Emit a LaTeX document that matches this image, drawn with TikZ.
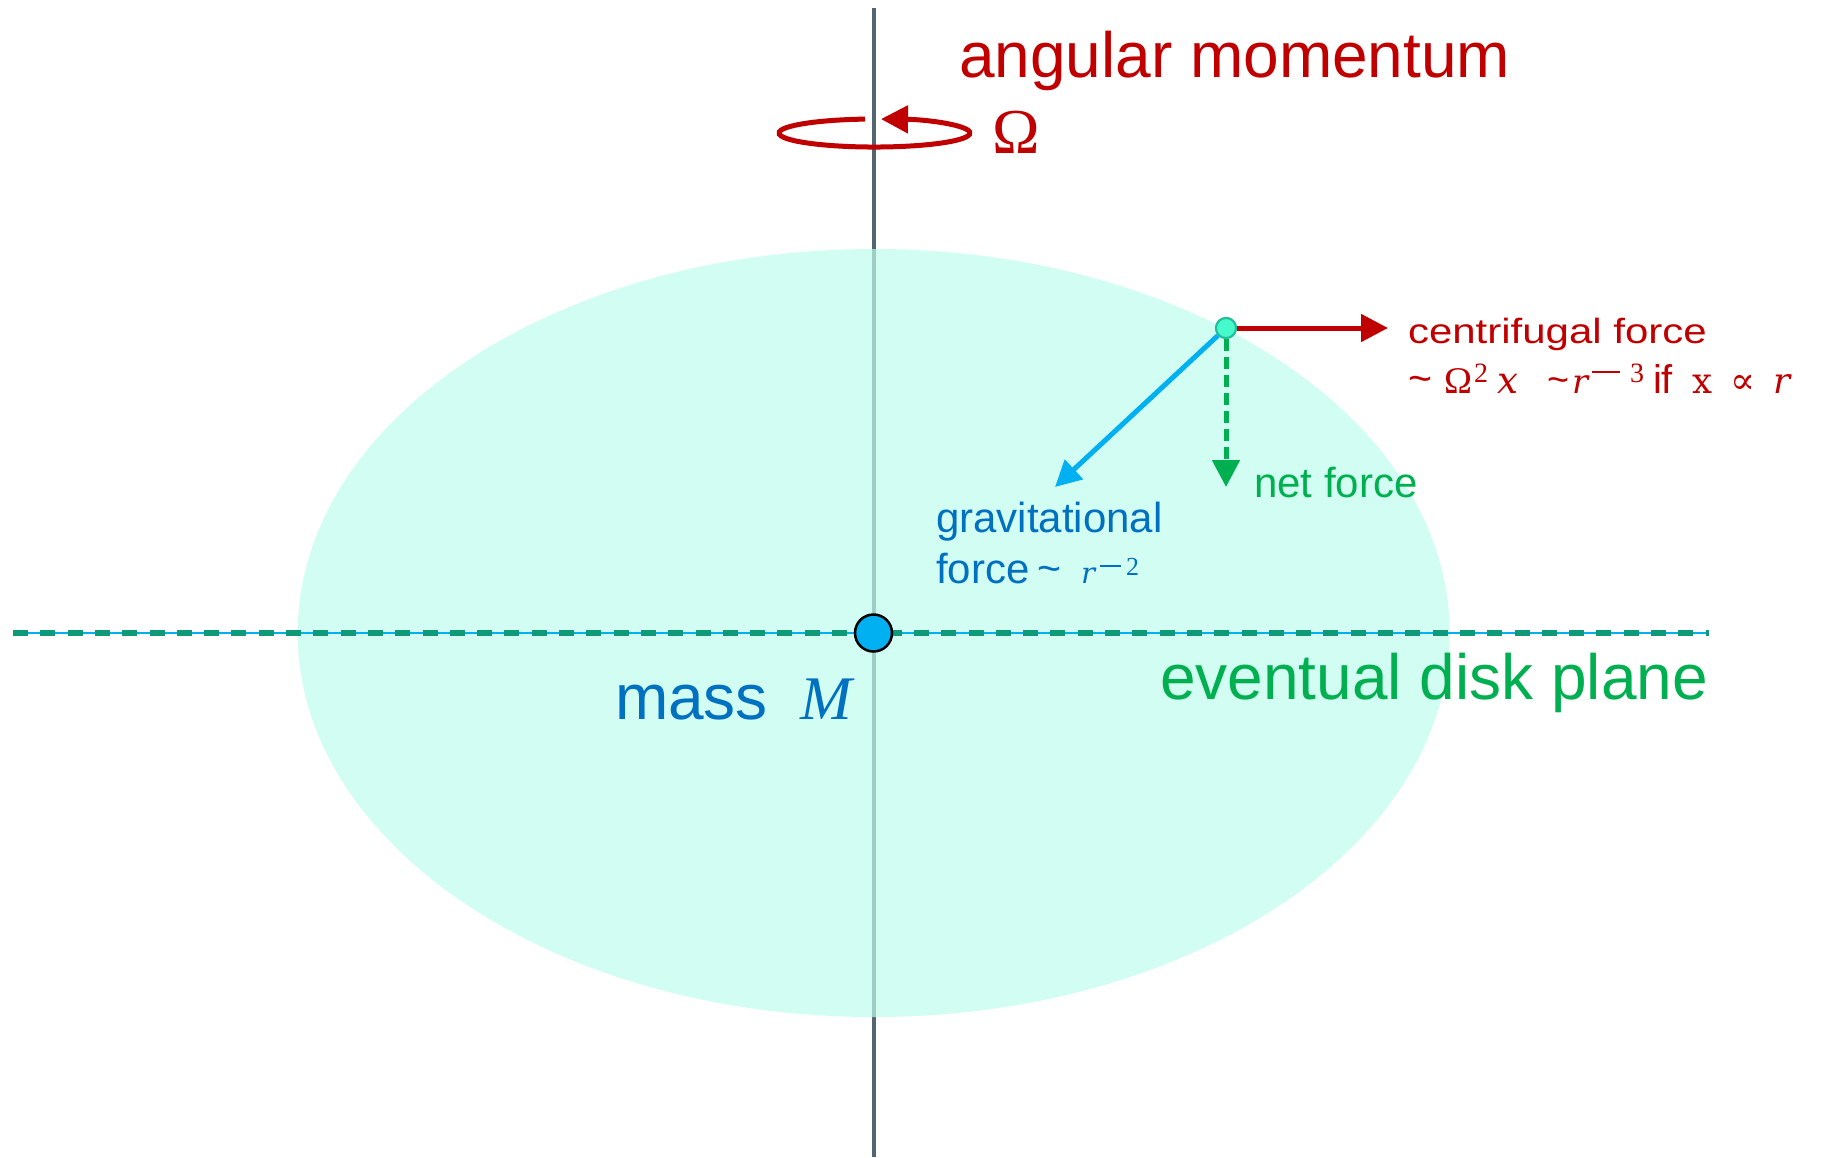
\documentclass[tikz,border=0pt]{standalone}
\usepackage{fontspec}
\setmainfont{Liberation Sans}
\newfontfamily\serif{Liberation Serif}
\newfontfamily\dserif{DejaVu Serif}
\usetikzlibrary{arrows.meta}
\definecolor{cred}{RGB}{192,0,0}
\definecolor{cblue}{RGB}{0,112,192}
\definecolor{clblue}{RGB}{0,176,240}
\definecolor{cgreen}{RGB}{0,176,80}
\definecolor{cteal}{RGB}{14,154,118}
\definecolor{cfill}{RGB}{191,252,236}
\definecolor{caxis}{RGB}{84,100,112}
\definecolor{cdot}{RGB}{70,250,205}
\definecolor{cdotb}{RGB}{30,190,150}
\newcommand\fs[1]{\fontsize{#1}{#1}\selectfont}
\newcommand\putat[2]{\makebox[0pt][l]{\hspace*{#1pt}#2}}
\newcommand\wbox[2]{\resizebox{#1pt}{!}{#2}}
\newcommand\mrule[3]{\raisebox{#1pt}{\rule{#2pt}{#3pt}}}
\tikzset{
  lbl/.style={inner sep=0pt, outer sep=0pt, anchor=base west},
  tip/.style={-{Triangle[length=27pt,width=27pt]}},
}
\begin{document}
\begin{tikzpicture}[x=1pt,y=-1pt]
\useasboundingbox (0,0) rectangle (1829,1157);
% axis
\coordinate (axtop) at (873.5,8);
\coordinate (axbot) at (873.5,1157);
\draw[caxis, line width=4pt] (axtop) -- (axbot);
% disk ellipse
\fill[cfill, fill opacity=0.7] (873.7,633) ellipse[x radius=576pt, y radius=384pt];
% disk plane
\coordinate (pl) at (13,633);
\coordinate (pr) at (1709,633);
\draw[clblue, line width=1.5pt] (pl) -- (pr);
\draw[cteal, line width=6pt, dash pattern=on 15pt off 12.3pt] (pl) -- (pr);
% mass
\node[circle, draw=black, line width=2.5pt, fill=clblue, minimum size=37pt, inner sep=0pt] (mass) at (873.5,633) {};
% rotation
\coordinate (rotstart) at (865,119.1);
\draw[cred, line width=5pt, tip] (rotstart) arc[start angle=95.7, end angle=446.1, x radius=95.5pt, y radius=14pt];
% particle and forces
\coordinate (cftip) at (1388,328);
\coordinate (grtip) at (1055,487);
\coordinate (nettip) at (1226,487);
\node[circle, draw=cdotb, fill=cdot, line width=2pt, minimum size=20pt, inner sep=0pt] (dot) at (1226,328) {};
\draw[cred, line width=5pt, tip] (dot) -- (cftip);
\draw[clblue, line width=5pt, -{Triangle[length=26pt,width=26pt]}] (dot) -- (grtip);
\draw[cgreen, line width=5pt, dash pattern=on 12pt off 6pt, tip] (dot) -- (nettip);
\node[circle, draw=cdotb, fill=cdot, line width=2pt, minimum size=20pt, inner sep=0pt] (dot2) at (1226,328) {};
% labels
\node[lbl, cred] (am) at (959,77) {\fs{64}angular momentum};
\node[lbl, cred] (om) at (992,153) {\fs{64}\serif Ω};
\node[lbl, cred] (cf1) at (1408,343) {\fs{35}\scalebox{1.2}[1]{centrifugal force}};
\node[lbl, cred] (cf2) at (1408,393) {%
  \putat{0}{\fs{40}\raisebox{1pt}{\wbox{24}{\char"007E}}}%
  \putat{36}{\fs{40}\wbox{28}{\serif Ω}}%
  \putat{66}{\fs{26}\raisebox{11pt}{\wbox{14}{\serif 2}}}%
  \putat{89}{\fs{34}\wbox{21}{\dserif\itshape x}}%
  \putat{139}{\fs{40}\raisebox{1pt}{\wbox{22}{\char"007E}}}%
  \putat{164}{\fs{34}\wbox{16}{\dserif\itshape r}}%
  \putat{184}{\mrule{20}{28}{2}}%
  \putat{222}{\fs{26}\raisebox{11pt}{\wbox{14}{\serif 3}}}%
  \putat{245}{\fs{40}if}%
  \putat{284}{\fs{34}\wbox{20}{\dserif x}}%
  \putat{322}{\fs{40}\wbox{25}{\dserif ∝}}%
  \putat{365}{\fs{34}\wbox{17}{\dserif\itshape r}}%
  \hspace*{392pt}};
\node[lbl, cblue] (gr1) at (936,532) {\fs{42}gravitational};
\node[lbl, cblue] (gr2) at (936,583) {%
  \putat{0}{\fs{42}force}%
  \putat{101}{\fs{42}\raisebox{1pt}{\wbox{24}{\char"007E}}}%
  \putat{145}{\fs{34}\wbox{14}{\dserif\itshape r}}%
  \putat{164}{\mrule{16}{21}{2}}%
  \putat{190}{\fs{27}\raisebox{8pt}{\wbox{13}{\serif 2}}}%
  \hspace*{205pt}};
\node[lbl, cgreen] (net) at (1254,497) {\fs{42}net force};
\node[lbl, cblue] (massl) at (615,719) {\fs{64}mass};
\node[lbl, cblue] (massm) at (800,719) {\fs{62}\serif\itshape M};
\node[lbl, cgreen] (edp) at (1160,699) {\fs{64}eventual disk plane};
\end{tikzpicture}
\end{document}
